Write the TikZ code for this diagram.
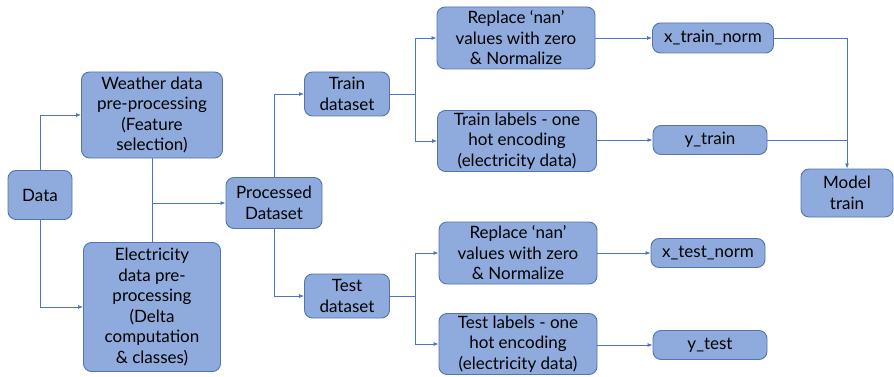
\documentclass[tikz,border=0pt]{standalone}
\usepackage{fontspec}
\setmainfont{Lato}
\usepackage{tikz}
\usetikzlibrary{arrows.meta}
\definecolor{boxfill}{HTML}{8FAADC}
\definecolor{boxline}{HTML}{5275B0}
\definecolor{linkline}{HTML}{4A76C6}

\begin{document}
\begin{tikzpicture}[x=1pt,y=-1pt,
	box/.style={draw=boxline, fill=boxfill, line width=0.9pt, rounded corners=8pt,
		align=center, inner sep=0pt, font=\fontsize{17}{20.5}\selectfont},
	link/.style={draw=linkline, line width=0.8pt},
	>={Latex[length=5pt,width=4pt]}]
\useasboundingbox (0,0) rectangle (894,377);

\node[box, minimum width=64pt, minimum height=49pt] (data) at (40,195) {Data};
\node[box, minimum width=141pt, minimum height=86pt] (weather) at (152,115) {Weather data\\pre-processing\\(Feature\\selection)};
\node[box, minimum width=137pt, minimum height=129pt] (elec) at (152,307) {Electricity\\data pre-\\processing\\(Delta\\computation\\\& classes)};
\node[box, minimum width=96pt, minimum height=51pt] (proc) at (274,203) {Processed\\Dataset};

\node[box, minimum width=85pt, minimum height=44pt] (train) at (347,94) {Train\\dataset};
\node[box, minimum width=85pt, minimum height=44pt] (test) at (347,296) {Test\\dataset};

\node[box, minimum width=158pt, minimum height=62pt] (trnan) at (516,38) {Replace ‘nan’\\values with zero\\\& Normalize};
\node[box, minimum width=159pt, minimum height=61pt] (trlab) at (517,141) {Train labels - one\\hot encoding\\(electricity data)};
\node[box, minimum width=158pt, minimum height=62pt] (tenan) at (518,253) {Replace ‘nan’\\values with zero\\\& Normalize};
\node[box, minimum width=158pt, minimum height=61pt] (telab) at (518,344) {Test labels - one\\hot encoding\\(electricity data)};

\node[box, minimum width=121pt, minimum height=30pt] (xtrn) at (713,38) {x\_train\_norm};
\node[box, minimum width=114pt, minimum height=29pt] (ytr) at (710,140) {y\_train};
\node[box, minimum width=114pt, minimum height=29pt] (xten) at (708,253) {x\_test\_norm};
\node[box, minimum width=114pt, minimum height=29pt] (yte) at (710,345) {y\_test};

\node[box, minimum width=92pt, minimum height=48pt] (mtrain) at (847,193) {Model\\train};

\coordinate (join) at (weather.south |- proc.west);
\coordinate (trsplit) at ([xshift=25pt]train.east);
\coordinate (tesplit) at ([xshift=25pt]test.east);

\draw[link,->] (data.north) |- (weather.west);
\draw[link,->] (data.south) |- (elec.west);
\draw[link] (weather.south) -- (elec.north);
\draw[link,->] (join) -- (proc.west);
\draw[link,->] (proc.north) |- (train.west);
\draw[link,->] (proc.south) |- (test.west);

\draw[link] (train.east) -- (trsplit);
\draw[link,->] (trsplit) |- (trnan.west);
\draw[link,->] (trsplit) |- (trlab.west);
\draw[link] (test.east) -- (tesplit);
\draw[link,->] (tesplit) |- (tenan.west);
\draw[link,->] (tesplit) |- (telab.west);

\draw[link,->] (trnan) -- (xtrn);
\draw[link,->] (trlab.east |- ytr.west) -- (ytr.west);
\draw[link,->] (tenan) -- (xten);
\draw[link,->] (telab.east |- yte.west) -- (yte.west);

\draw[link,->] (xtrn.east) -| (mtrain.north);
\draw[link] (ytr.east) -- (ytr.east -| mtrain.north);
\end{tikzpicture}
\end{document}
